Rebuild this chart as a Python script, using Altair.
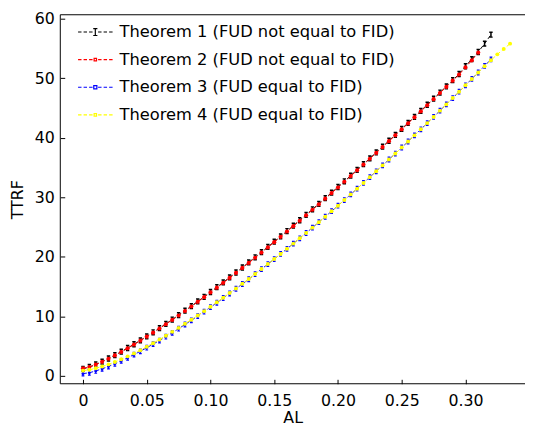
import altair as alt
import pandas as pd

AL = [0.000, 0.005, 0.010, 0.015, 0.020, 0.025, 0.030, 0.035, 0.040, 0.045,
      0.050, 0.055, 0.060, 0.065, 0.070, 0.075, 0.080, 0.085, 0.090, 0.095,
      0.100, 0.105, 0.110, 0.115, 0.120, 0.125, 0.130, 0.135, 0.140, 0.145,
      0.150, 0.155, 0.160, 0.165, 0.170, 0.175, 0.180, 0.185, 0.190, 0.195,
      0.200, 0.205, 0.210, 0.215, 0.220, 0.225, 0.230, 0.235, 0.240, 0.245,
      0.250, 0.255, 0.260, 0.265, 0.270, 0.275, 0.280, 0.285, 0.290, 0.295,
      0.300, 0.305, 0.310, 0.315, 0.320, 0.325, 0.330, 0.335]

T1 = [1.20, 1.51, 1.94, 2.42, 2.94, 3.50, 4.09, 4.70, 5.33, 5.98,
      6.65, 7.34, 8.04, 8.75, 9.48, 10.22, 10.98, 11.74, 12.52, 13.30,
      14.10, 14.91, 15.72, 16.55, 17.38, 18.22, 19.07, 19.93, 20.80, 21.67,
      22.55, 23.44, 24.34, 25.24, 26.15, 27.06, 27.99, 28.91, 29.85, 30.79,
      31.73, 32.69, 33.64, 34.61, 35.57, 36.55, 37.53, 38.51, 39.50, 40.49,
      41.49, 42.50, 43.51, 44.52, 45.54, 46.56, 47.59, 48.62, 49.66, 50.70,
      52.00, 53.20, 54.40, 55.80, 57.30]

T2 = [1.30, 1.50, 1.90, 2.38, 2.90, 3.45, 4.04, 4.65, 5.28, 5.93,
      6.60, 7.28, 7.98, 8.69, 9.42, 10.16, 10.91, 11.67, 12.45, 13.23,
      14.03, 14.83, 15.64, 16.47, 17.30, 18.14, 18.99, 19.85, 20.72, 21.59,
      22.47, 23.36, 24.26, 25.16, 26.07, 26.98, 27.91, 28.83, 29.77, 30.71,
      31.65, 32.61, 33.56, 34.53, 35.49, 36.47, 37.45, 38.43, 39.42, 40.41,
      41.41, 42.42, 43.43, 44.44, 45.46, 46.48, 47.51, 48.54, 49.58, 50.62,
      51.80, 53.00, 54.30]

T3 = [0.40, 0.55, 0.85, 1.20, 1.60, 2.05, 2.55, 3.05, 3.60, 4.15,
      4.75, 5.35, 5.95, 6.60, 7.25, 7.95, 8.65, 9.35, 10.05, 10.80,
      11.55, 12.30, 13.10, 13.85, 14.65, 15.45, 16.25, 17.10, 17.95, 18.79,
      19.63, 20.49, 21.36, 22.23, 23.12, 24.01, 24.91, 25.82, 26.74, 27.67,
      28.60, 29.54, 30.49, 31.45, 32.42, 33.39, 34.37, 35.36, 36.35, 37.35,
      38.36, 39.37, 40.40, 41.42, 42.46, 43.50, 44.55, 45.60, 46.66, 47.73,
      48.80, 49.88, 50.96, 52.06, 53.15]

T4 = [0.90, 1.05, 1.30, 1.60, 1.95, 2.35, 2.80, 3.30, 3.80, 4.33,
      4.91, 5.51, 6.13, 6.76, 7.41, 8.08, 8.76, 9.46, 10.17, 10.89,
      11.63, 12.38, 13.14, 13.92, 14.70, 15.50, 16.30, 17.12, 17.95, 18.79,
      19.63, 20.49, 21.36, 22.23, 23.12, 24.01, 24.91, 25.82, 26.74, 27.67,
      28.60, 29.54, 30.49, 31.45, 32.42, 33.39, 34.37, 35.36, 36.35, 37.35,
      38.36, 39.37, 40.40, 41.42, 42.46, 43.50, 44.55, 45.60, 46.66, 47.73,
      48.80, 49.88, 50.96, 52.00, 53.00, 54.00, 54.90, 55.80]

SERIES = ["Theorem 1 (FUD not equal to FID)",
          "Theorem 2 (FUD not equal to FID)",
          "Theorem 3 (FUD equal to FID)",
          "Theorem 4 (FUD equal to FID)"]
COLORS = ["#000000", "#ff0000", "#0000ff", "#ffff00"]
X_TICKS = [0, 0.05, 0.10, 0.15, 0.20, 0.25, 0.30]
Y_TICKS = [0, 10, 20, 30, 40, 50, 60]

W, H = 471, 374
FONT = "DejaVu Sans"

rows = []
for name, vals in zip(SERIES, [T1, T2, T3, T4]):
    for a, v in zip(AL, vals):
        rows.append({"AL": a, "TTRF": v, "series": name})
df = pd.DataFrame(rows)

xs = alt.Scale(domain=[-0.0178, 0.3467], nice=False, zero=False)
ys = alt.Scale(domain=[-1.3, 60.65], nice=False, zero=False)

x_axis = alt.Axis(values=X_TICKS, labelExpr="datum.value == 0 ? '0' : format(datum.value, '.2f')",
                  offset=-4.5, domain=False, grid=False, tickSize=4.5, tickColor="black",
                  tickWidth=1, labelPadding=9, labelFontSize=16, labelFont=FONT,
                  labelColor="black", labelFlush=False, title="AL", titleFont=FONT,
                  titleFontSize=16, titleFontWeight="normal", titleColor="black",
                  titlePadding=1)
y_axis = alt.Axis(values=Y_TICKS, offset=-4.5, domain=False, grid=False, tickSize=4.5,
                  tickColor="black", tickWidth=1, labelPadding=6, labelFontSize=16,
                  labelFont=FONT, labelColor="black", title="TTRF", titleFont=FONT,
                  titleFontSize=16, titleFontWeight="normal", titleColor="black",
                  titlePadding=9)

BAR = "M-0.7,-1H0.7M0,-1V1M-0.7,1H0.7"
BLUEBAR = "M-0.6,-1H0.6M0,-1V1M-0.6,1H0.6M-0.4,0A0.4,0.4 0 1,0 0.4,0A0.4,0.4 0 1,0 -0.4,0"
DASH = "M-1,0H-0.8M-0.68,0H-0.48M-0.36,0H-0.16M0.16,0H0.36M0.48,0H0.68M0.8,0H1"
LEG_PATHS = [DASH + "M-0.12,-0.2H0.12M0,-0.2V0.2M-0.12,0.2H0.12",
             DASH + "M-0.07,-0.07H0.07V0.07H-0.07Z",
             DASH + "M-0.09,-0.09H0.09V0.09H-0.09Z",
             DASH + "M-0.07,-0.07H0.07V0.07H-0.07Z"]

marker_style = [
    dict(shape=BAR, filled=False, size=24, strokeWidth=1.5),
    dict(shape="circle", filled=True, size=18, strokeWidth=0),
    dict(shape=BLUEBAR, filled=False, size=22, strokeWidth=1.2),
    dict(shape="circle", filled=True, size=16, strokeWidth=0),
]

layers = []
for name, col, ms in zip(SERIES, COLORS, marker_style):
    base = alt.Chart(df).transform_filter(alt.datum.series == name)
    enc = dict(x=alt.X("AL:Q", scale=xs, axis=x_axis),
               y=alt.Y("TTRF:Q", scale=ys, axis=y_axis))
    line = base.mark_line(color=col, strokeWidth=1, strokeDash=[4, 2.5]).encode(**enc)
    pts = base.mark_point(color=col, opacity=1, **ms).encode(**enc)
    layers += [line, pts]

leg = alt.Legend(orient="none", legendX=17, legendY=-1, title=None, labelFont=FONT,
                 labelFontSize=16.5, labelColor="black", symbolSize=1225,
                 symbolStrokeWidth=1.2, labelOffset=6, rowPadding=1, labelLimit=400)
legend_layer = alt.Chart(df).transform_filter("false").mark_point(filled=False, opacity=1).encode(
    x=alt.X("AL:Q", scale=xs, axis=x_axis),
    y=alt.Y("TTRF:Q", scale=ys, axis=y_axis),
    color=alt.Color("series:N", scale=alt.Scale(domain=SERIES, range=COLORS), legend=leg),
    shape=alt.Shape("series:N", scale=alt.Scale(domain=SERIES, range=LEG_PATHS), legend=leg),
)
layers.append(legend_layer)

one = pd.DataFrame({"v": [0]})
top = alt.Chart(one).mark_rule(color="black", strokeWidth=1).encode(
    x=alt.value(0), x2=alt.value(W), y=alt.value(0))
left = alt.Chart(one).mark_rule(color="black", strokeWidth=1).encode(
    x=alt.value(0), y=alt.value(0), y2=alt.value(H))
bottom = alt.Chart(one).mark_rule(color="black", strokeWidth=1).encode(
    x=alt.value(0), x2=alt.value(W), y=alt.value(H))
layers += [top, left, bottom]

chart = alt.layer(*layers).properties(
    width=W, height=H,
    autosize=alt.AutoSizeParams(type="none"),
    padding={"left": 53, "top": 4, "right": 0, "bottom": 42},
    background="white",
).configure_view(stroke=None)

chart.save("out.html", embed_options={"renderer": "svg", "actions": False})
